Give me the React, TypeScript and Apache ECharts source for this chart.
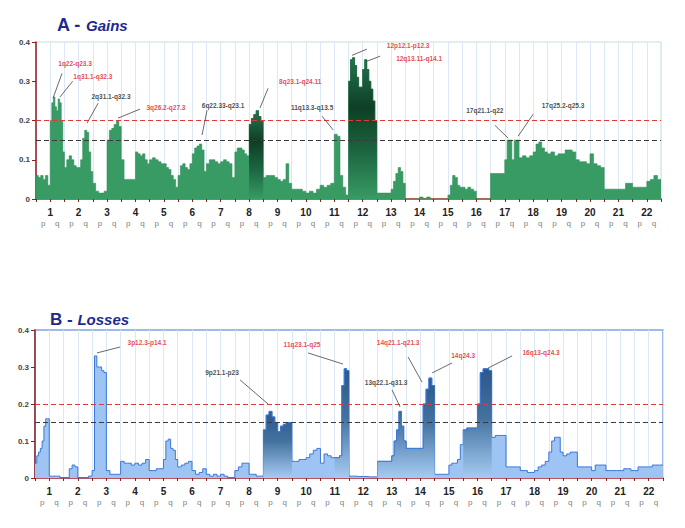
import React, { useEffect, useRef } from "react";
import * as echarts from "echarts";

const FONT = "'Liberation Sans', Arial, sans-serif";

const chromosomes = ["1","2","3","4","5","6","7","8","9","10","11","12","13","14","15","16","17","18","19","20","21","22"];
const armNames = ["p", "q"];
const yTicks = [0, 0.1, 0.2, 0.3, 0.4];
const thresholdHigh = 0.2;
const thresholdLow = 0.15;

// Gains frequency: one small list per arm (1p,1q,2p,...,22q), values evenly spread along the arm
const gainArms: number[][] = [
  [0.06, 0.055, 0.06, 0.05, 0.06, 0.035],
  [0.2, 0.245, 0.26, 0.235, 0.225, 0.255, 0.245, 0.2, 0.12],
  [0.08, 0.1, 0.11, 0.1, 0.085, 0.08],
  [0.08, 0.1, 0.155, 0.175, 0.17, 0.12, 0.07],
  [0.04, 0.02, 0.015, 0.015, 0.02],
  [0.15, 0.175, 0.18, 0.19, 0.2, 0.185],
  [0.1, 0.05, 0.05, 0.05, 0.05],
  [0.12, 0.115, 0.11, 0.115, 0.1, 0.09],
  [0.1, 0.105, 0.1, 0.095, 0.09],
  [0.09, 0.08, 0.075, 0.06, 0.05, 0.03],
  [0.06, 0.085, 0.09, 0.08, 0.075, 0.09],
  [0.115, 0.13, 0.135, 0.14, 0.125, 0.07],
  [0.09, 0.1, 0.1, 0.095, 0.09],
  [0.095, 0.1, 0.095, 0.09, 0.055],
  [0.12, 0.13, 0.13, 0.125, 0.115, 0.11],
  [0.19, 0.205, 0.215, 0.225, 0.21, 0.2],
  [0.055, 0.06, 0.06, 0.06, 0.055],
  [0.05, 0.045, 0.05, 0.09, 0.04],
  [0.025, 0.025, 0.025, 0.02],
  [0.015, 0.02, 0.015, 0.025],
  [0.035, 0.03, 0.035, 0.04],
  [0.165, 0.16, 0.06, 0.03, 0.01],
  [0.3, 0.355, 0.36, 0.34, 0.31, 0.285, 0.285],
  [0.33, 0.355, 0.33, 0.3, 0.28, 0.25, 0.2],
  [0.015, 0.015, 0.015, 0.015],
  [0.025, 0.045, 0.065, 0.08, 0.07, 0.04],
  [0, 0, 0, 0],
  [0.005, 0, 0.005, 0],
  [0, 0, 0, 0],
  [0.01, 0.035, 0.06, 0.055, 0.035, 0.03],
  [0.03, 0.025, 0.03, 0.025, 0.02],
  [0, 0, 0, 0],
  [0.065, 0.065, 0.065, 0.065],
  [0.1, 0.15, 0.15, 0.1, 0.15, 0.15],
  [0.105, 0.11, 0.105, 0.11],
  [0.12, 0.14, 0.145, 0.13, 0.12],
  [0.115, 0.12, 0.11, 0.115],
  [0.115, 0.125, 0.125, 0.12],
  [0.1, 0.095, 0.095, 0.09],
  [0.115, 0.09, 0.085, 0.08],
  [0.025, 0.025, 0.025, 0.025],
  [0.025, 0.025, 0.04, 0.04],
  [0.03, 0.03, 0.03, 0.03],
  [0.045, 0.05, 0.06, 0.05],
];

// Losses frequency, same arm order
const lossArms: number[][] = [
  [0.04, 0.06, 0.07, 0.08, 0.1, 0.14, 0.16, 0.16],
  [0.005, 0.005, 0.005, 0],
  [0, 0, 0.025, 0.035, 0.03],
  [0, 0, 0, 0.005],
  [0.02, 0.33, 0.3, 0.3, 0.29, 0.285],
  [0.02, 0.01, 0.01, 0.01],
  [0.045, 0.04, 0.04, 0.035],
  [0.04, 0.035, 0.04, 0.05],
  [0.02, 0.02, 0.025, 0.025],
  [0.05, 0.1, 0.105, 0.08, 0.075, 0.05],
  [0.03, 0.035, 0.04, 0.045],
  [0.02, 0.01, 0.015, 0.025],
  [0.01, 0.005, 0.01, 0.005],
  [0.01, 0.005, 0, 0],
  [0.02, 0.03, 0.04, 0.04],
  [0.01, 0.01, 0.005, 0.005],
  [0.13, 0.17, 0.18, 0.165, 0.15],
  [0.125, 0.14, 0.145, 0.15, 0.15],
  [0.045, 0.045, 0.05, 0.05],
  [0.055, 0.065, 0.075, 0.08],
  [0.04, 0.065, 0.06, 0.055],
  [0.055, 0.055, 0.06, 0.25, 0.295, 0.29],
  [0.005, 0.005, 0.004, 0.004],
  [0.004, 0.003, 0.003, 0.003],
  [0.045, 0.045, 0.045, 0.045],
  [0.06, 0.1, 0.13, 0.18, 0.14, 0.1],
  [0.08, 0.08, 0.08, 0.08],
  [0.08, 0.2, 0.24, 0.27, 0.25],
  [0.01, 0.01, 0.01, 0.01],
  [0.035, 0.04, 0.04, 0.05, 0.09],
  [0.13, 0.135, 0.135, 0.135],
  [0.2, 0.285, 0.295, 0.295, 0.29],
  [0.11, 0.115, 0.115, 0.115],
  [0.03, 0.03, 0.03, 0.03],
  [0.02, 0.02, 0.015, 0.015],
  [0.02, 0.03, 0.035, 0.045],
  [0.07, 0.1, 0.11, 0.11, 0.07],
  [0.06, 0.065, 0.07, 0.07],
  [0.03, 0.03, 0.03, 0.03],
  [0.02, 0.035, 0.035, 0.035],
  [0.02, 0.02, 0.02, 0.02],
  [0.02, 0.025, 0.025, 0.02],
  [0.02, 0.03, 0.03, 0.03],
  [0.03, 0.035, 0.035, 0.035],
];

// arm groups drawn with the darker gradient
const darkGroupsGains = [["8q"], ["12p", "12q"]];
const darkGroupsLosses = [["9p", "9q"], ["11q"], ["13p", "13q", "14p", "14q"], ["16p", "16q"]];

const RED = "#e0161f";
const BLACK = "#1a1a1a";

type Note = { text: string; color: string; at: number[]; from: number[]; to: number[] };

const gainNotes: Note[] = [
  { text: "1q22-q23.3", color: RED, at: [2.75, 0.346], from: [1.83, 0.32], to: [1.2, 0.257] },
  { text: "1q31.1-q32.3", color: RED, at: [4.0, 0.313], from: [2.58, 0.3], to: [1.69, 0.26] },
  { text: "2q31.1-q32.3", color: BLACK, at: [5.28, 0.26], from: [4.37, 0.244], to: [3.59, 0.193] },
  { text: "3q26.2-q27.3", color: RED, at: [9.15, 0.234], from: [7.32, 0.229], to: [5.77, 0.206] },
  { text: "6q22.33-q23.1", color: BLACK, at: [13.17, 0.237], from: [12.04, 0.226], to: [11.69, 0.163] },
  { text: "8q23.1-q24.11", color: RED, at: [18.6, 0.3], from: [16.34, 0.282], to: [15.77, 0.232] },
  { text: "11q13.3-q13.5", color: BLACK, at: [19.44, 0.232], from: [20.14, 0.211], to: [20.92, 0.176] },
  { text: "12p12.1-p12.3", color: RED, at: [26.2, 0.392], from: [22.25, 0.366], to: [23.3, 0.382] },
  { text: "12q13.11-q14.1", color: RED, at: [26.97, 0.359], from: [23.3, 0.351], to: [24.23, 0.364] },
  { text: "17q21.1-q22", color: BLACK, at: [31.6, 0.226], from: [32.3, 0.188], to: [33.24, 0.155] },
  { text: "17q25.2-q25.3", color: BLACK, at: [37.1, 0.239], from: [35.0, 0.216], to: [33.94, 0.16] },
];

const lossNotes: Note[] = [
  { text: "3p12.3-p14.1", color: RED, at: [7.85, 0.365], from: [5.96, 0.354], to: [4.34, 0.338] },
  { text: "11q23.1-q25", color: RED, at: [18.71, 0.362], from: [19.13, 0.338], to: [21.58, 0.308] },
  { text: "9p21.1-p23", color: BLACK, at: [13.1, 0.286], from: [14.37, 0.265], to: [16.33, 0.2] },
  { text: "14q21.1-q21.3", color: RED, at: [25.44, 0.365], from: [26.14, 0.327], to: [27.12, 0.259] },
  { text: "14q24.3", color: RED, at: [30.0, 0.332], from: [29.22, 0.311], to: [27.82, 0.284] },
  { text: "16q13-q24.3", color: RED, at: [35.46, 0.338], from: [33.43, 0.33], to: [31.74, 0.297] },
  { text: "13q22.1-q31.3", color: BLACK, at: [24.6, 0.259], from: [25.02, 0.238], to: [25.58, 0.192] },
];

const armIndex = (name: string) => (parseInt(name, 10) - 1) * 2 + (name.endsWith("q") ? 1 : 0);

function buildSteps(vals: number[][], keep?: Set<number>) {
  const pts: any[] = [];
  vals.forEach((arm, i) => {
    const n = arm.length;
    if (keep && !keep.has(i)) {
      pts.push([i, "-"]);
      return;
    }
    arm.forEach((v, j) => {
      pts.push([i + j / n, v]);
      pts.push([i + (j + 1) / n, v]);
    });
  });
  return pts;
}

const NARMS = chromosomes.length * 2;

function xAxes(gridIndex: number) {
  return [
    {
      gridIndex, type: "value", min: 0, max: NARMS, interval: 1, position: "bottom", offset: 0,
      axisLine: { show: true, onZero: false, lineStyle: { color: "#c2302b", width: 1.5 } },
      axisTick: { show: true, length: 3, lineStyle: { color: "#8e1f1f", width: 1 } },
      splitLine: { show: true, lineStyle: { color: "#dce8f5", width: 1 } },
      axisLabel: {
        margin: 8, fontSize: 10, fontWeight: "bold", color: "#222", fontFamily: FONT,
        formatter: (v: number) => {
          const k = Math.round(v);
          return k % 2 === 1 ? chromosomes[(k - 1) / 2] : "";
        },
      },
    },
    {
      gridIndex, type: "value", min: 0, max: NARMS, interval: 0.5, position: "bottom", offset: 0,
      axisLine: { show: false }, axisTick: { show: false }, splitLine: { show: false },
      axisLabel: {
        margin: 20, fontSize: 8, color: "#808080", fontFamily: FONT,
        formatter: (v: number) => {
          const k = Math.round(v * 2);
          if (k % 2 === 0) return "";
          return armNames[Math.floor(v) % 2];
        },
      },
    },
  ];
}

function yAxis(gridIndex: number) {
  return {
    gridIndex, type: "value", min: yTicks[0], max: yTicks[yTicks.length - 1], interval: 0.1,
    axisLine: { show: true, lineStyle: { color: "#8e1f1f", width: 1.5 } },
    axisTick: { show: true, length: 4, lineStyle: { color: "#8e1f1f" } },
    splitLine: { show: false },
    axisLabel: {
      margin: 6, fontSize: 8, fontWeight: "bold", color: "#444", fontFamily: FONT,
      formatter: (v: number) => (v === 0 ? "0" : v.toFixed(1)),
    },
  };
}

function panelSeries(
  axisIdx: number,
  vals: number[][],
  baseFill: string,
  baseLine: string,
  baseLineWidth: number,
  darkGroups: string[][],
  darkStops: { offset: number; color: string }[],
  darkLine: string,
  notes: Note[]
) {
  const series: any[] = [];
  series.push({
    type: "line", xAxisIndex: axisIdx * 2, yAxisIndex: axisIdx, data: buildSteps(vals),
    symbol: "none", showSymbol: false, z: 2,
    lineStyle: { width: baseLineWidth, color: baseLine },
    areaStyle: { color: baseFill, opacity: 1 },
  });
  darkGroups.forEach((g) => {
    const keep = new Set(g.map(armIndex));
    series.push({
      type: "line", xAxisIndex: axisIdx * 2, yAxisIndex: axisIdx, data: buildSteps(vals, keep),
      symbol: "none", showSymbol: false, z: 3, connectNulls: false,
      lineStyle: { width: baseLineWidth, color: darkLine },
      areaStyle: { color: new echarts.graphic.LinearGradient(0, 0, 0, 1, darkStops), opacity: 1 },
    });
  });
  series.push({
    type: "scatter", xAxisIndex: axisIdx * 2, yAxisIndex: axisIdx, z: 6,
    symbolSize: 1, itemStyle: { color: "rgba(0,0,0,0)" },
    label: { show: true, position: "inside", formatter: "{b}", fontSize: 6.5, fontWeight: "bold", fontFamily: FONT },
    data: notes.map((n) => ({ name: n.text, value: n.at, label: { color: n.color } })),
    markLine: {
      silent: true, symbol: ["none", "none"], label: { show: false },
      lineStyle: { color: "#444", width: 0.8, type: "solid" },
      data: [
        { yAxis: thresholdHigh, lineStyle: { color: "#e0393b", type: [5, 3], width: 1.2 } },
        { yAxis: thresholdLow, lineStyle: { color: "#3a3a3a", type: [5, 3], width: 1.2 } },
        ...notes.map((n) => [
          { coord: n.from, lineStyle: { color: "#444", width: 0.8, type: "solid" } },
          { coord: n.to, lineStyle: { color: "#444", width: 0.8, type: "solid" } },
        ]),
      ],
    },
  });
  return series;
}

function buildOption() {
  const titleColor = "#1c2a8e";
  return {
    animation: false,
    backgroundColor: "#ffffff",
    title: [
      {
        left: 52, top: 11, text: "{a|A - }{b|Gains}",
        textStyle: {
          rich: {
            a: { fontSize: 18, fontWeight: "bold", color: titleColor, fontFamily: FONT },
            b: { fontSize: 15, fontWeight: "bold", fontStyle: "italic", color: titleColor, fontFamily: FONT },
          },
        },
      },
      {
        left: 45, top: 306, text: "{a|B - }{b|Losses}",
        textStyle: {
          rich: {
            a: { fontSize: 17, fontWeight: "bold", color: titleColor, fontFamily: FONT },
            b: { fontSize: 15, fontWeight: "bold", fontStyle: "italic", color: titleColor, fontFamily: FONT },
          },
        },
      },
    ],
    grid: [
      { left: 36, top: 42, width: 625, height: 157, show: true, borderColor: "#c3e0dc", borderWidth: 1, backgroundColor: "transparent" },
      { left: 35, top: 330, width: 628, height: 148, show: true, borderColor: "#7fa5e6", borderWidth: 1.5, backgroundColor: "transparent" },
    ],
    xAxis: [...xAxes(0), ...xAxes(1)],
    yAxis: [yAxis(0), yAxis(1)],
    series: [
      ...panelSeries(
        0, gainArms, "#389b64", "#2f8f5a", 0.6, darkGroupsGains,
        [
          { offset: 0, color: "#257550" },
          { offset: 0.35, color: "#0e3f24" },
          { offset: 0.65, color: "#1b6440" },
          { offset: 1, color: "#389b64" },
        ],
        "#1d5c38", gainNotes
      ),
      ...panelSeries(
        1, lossArms, "#9dc4f2", "#3a78d8", 1, darkGroupsLosses,
        [
          { offset: 0, color: "#2c578a" },
          { offset: 0.45, color: "#44729f" },
          { offset: 1, color: "#a6cbf3" },
        ],
        "#3a78d8", lossNotes
      ),
    ],
  };
}

export default function App() {
  const ref = useRef<HTMLDivElement>(null);
  useEffect(() => {
    const chart = echarts.init(ref.current as HTMLDivElement, undefined, { renderer: "svg" });
    chart.setOption(buildOption() as any);
    return () => chart.dispose();
  }, []);
  return (
    <div
      ref={ref}
      style={{ position: "fixed", left: 0, top: 0, width: 685, height: 528, background: "#ffffff" }}
    />
  );
}
